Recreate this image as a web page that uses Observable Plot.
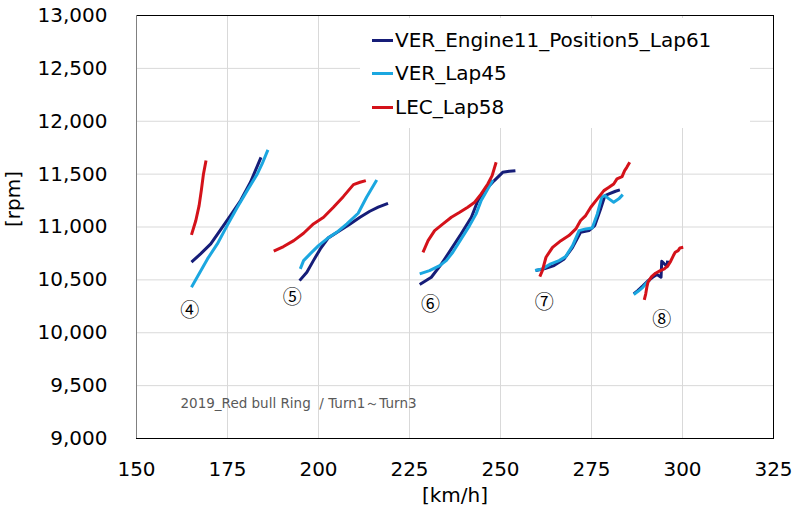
<!DOCTYPE html>
<html>
<head>
<meta charset="utf-8">
<script src="https://cdn.jsdelivr.net/npm/d3@7"></script>
<script src="https://cdn.jsdelivr.net/npm/@observablehq/plot@0.6"></script>
<style>
  body { margin: 0; background: white; }
  #wrap { position: relative; width: 800px; height: 518px; font-family: "DejaVu Sans", sans-serif; }
  #legend { position: absolute; left: 360px; top: 18px; width: 390px; height: 110px; background: white; }
  .item { position: absolute; left: 12px; height: 24px; display: flex; align-items: center; font-size: 20px; color: #000; }
  .sw { width: 21px; height: 3px; margin-right: 2px; }
</style>
</head>
<body>
<div id="wrap"><div id="legend"></div></div>
<script>
const seriesNames = ["VER_Engine11_Position5_Lap61", "VER_Lap45", "LEC_Lap58"];
const seriesColors = ["#161d78", "#1ba7e0", "#d4121a"];
const xTicks = [150, 175, 200, 225, 250, 275, 300, 325];
const yTicks = [9000, 9500, 10000, 10500, 11000, 11500, 12000, 12500, 13000];
const gears = [4, 5, 6, 7, 8];
const gearLabels = ["④", "⑤", "⑥", "⑦", "⑧"];
const gearLabelSpeed = [164.6, 192.8, 230.8, 262.0, 294.3];
const gearLabelRpm = [10210, 10333, 10266, 10285, 10125];
const caption = "2019_Red bull Ring \u00a0/ Turn1～Turn3";

// VER_Engine11_Position5_Lap61 : [km/h, rpm]
const ver61G4 = [[165.1,10667],[167.6,10746],[170.4,10840],[172.6,10950],[175.8,11108],[178.6,11250],[181.3,11423],[184.2,11659]];
const ver61G5 = [[194.8,10493],[196.8,10572],[198.6,10682],[200.5,10793],[202.7,10897],[205.9,10966],[208.7,11029],[211.4,11092],[214.1,11149],[216.4,11187],[219.1,11224]];
const ver61G6 = [[227.8,10456],[231.0,10525],[233.8,10651],[236.5,10793],[239.2,10935],[242.0,11092],[243.8,11250],[246.1,11360],[248.3,11439],[250.6,11517],[252.4,11527],[254.1,11533]];
const ver61G7 = [[259.7,10588],[262.0,10604],[264.7,10635],[267.5,10698],[269.8,10808],[272.0,10950],[274.3,10966],[275.9,11013],[277.5,11171],[278.7,11297],[279.8,11313],[281.6,11338],[282.8,11351]];
const ver61G8 = [[286.6,10368],[287.7,10399],[289.1,10443],[290.4,10487],[291.8,10525],[293.0,10550],[294.1,10525],[294.3,10676],[295.8,10626],[295.9,10682]];

// VER_Lap45
const ver45G4 = [[165.1,10430],[167.2,10557],[169.5,10698],[172.2,10840],[174.9,11013],[177.7,11187],[180.4,11344],[183.2,11502],[184.5,11596],[186.1,11729]];
const ver45G5 = [[195.0,10604],[195.9,10682],[197.7,10746],[200.0,10824],[202.3,10888],[205.0,10950],[207.8,11029],[210.9,11130],[213.2,11281],[216.0,11445]];
const ver45G6 = [[227.8,10557],[230.5,10588],[233.3,10635],[235.1,10682],[236.9,10761],[239.2,10888],[241.5,11013],[243.3,11124],[244.7,11250],[246.5,11360],[247.9,11445]];
const ver45G7 = [[259.5,10588],[261.5,10604],[263.8,10651],[266.1,10682],[267.9,10720],[269.8,10824],[271.6,10966],[273.4,10982],[275.2,10991],[276.6,11124],[277.8,11281],[278.7,11297],[279.8,11266],[281.1,11234],[282.5,11266],[283.6,11306]];
const ver45G8 = [[286.6,10361],[287.8,10392],[289.1,10430],[290.3,10477],[291.0,10500]];

// LEC_Lap58
const lec58G4 = [[165.1,10925],[166.3,11061],[167.2,11202],[167.8,11344],[168.4,11502],[169.1,11628]];
const lec58G5 = [[187.7,10771],[190.4,10815],[193.2,10871],[195.9,10941],[198.6,11029],[201.4,11092],[204.1,11187],[206.8,11287],[209.6,11401],[211.4,11423],[213.0,11439]];
const lec58G6 = [[228.7,10761],[230.1,10871],[231.9,10966],[234.2,11029],[236.5,11092],[238.8,11139],[241.0,11187],[242.9,11234],[244.7,11313],[246.5,11407],[247.7,11486],[248.8,11612]];
const lec58G7 = [[260.8,10531],[261.5,10588],[262.5,10714],[264.3,10808],[266.6,10871],[268.8,10919],[270.7,10982],[272.0,11061],[273.4,11108],[274.8,11187],[276.6,11266],[278.4,11344],[279.8,11375],[281.1,11407],[282.0,11455],[283.4,11476],[284.1,11533],[284.7,11564],[285.5,11612]];
const lec58G8 = [[289.5,10311],[289.9,10368],[290.2,10430],[290.5,10477],[291.5,10531],[292.6,10563],[293.9,10588],[295.0,10604],[296.0,10635],[296.6,10667],[297.5,10730],[298.0,10761],[298.8,10777],[299.3,10802],[300.2,10808]];

const seriesGears = [
  [ver61G4, ver61G5, ver61G6, ver61G7, ver61G8],
  [ver45G4, ver45G5, ver45G6, ver45G7, ver45G8],
  [lec58G4, lec58G5, lec58G6, lec58G7, lec58G8]
];

const rows = [];
seriesGears.forEach((gs, si) => gs.forEach((pts, gi) => pts.forEach(([speed, rpm]) =>
  rows.push({series: seriesNames[si], key: seriesNames[si] + "_" + gears[gi], speed, rpm}))));
const gearRows = gearLabels.map((t, i) => ({t, speed: gearLabelSpeed[i], rpm: gearLabelRpm[i]}));

const chart = Plot.plot({
  width: 800, height: 518,
  marginLeft: 136, marginRight: 27, marginTop: 15, marginBottom: 80,
  style: {fontFamily: "DejaVu Sans", fontSize: "20px", color: "#000", background: "white"},
  x: {domain: [150, 325]},
  y: {domain: [9000, 13000]},
  color: {domain: seriesNames, range: seriesColors},
  marks: [
    Plot.gridY(yTicks, {stroke: "#d9d9d9", strokeOpacity: 1}),
    Plot.gridX(xTicks, {stroke: "#d9d9d9", strokeOpacity: 1}),
    Plot.axisY(yTicks, {tickSize: 0, tickPadding: 29, tickFormat: d3.format(","), fontSize: 20, label: null}),
    Plot.axisX(xTicks, {tickSize: 0, tickPadding: 23, tickFormat: d => String(d), fontSize: 20, label: null}),
    Plot.line(rows, {x: "speed", y: "rpm", z: "key", stroke: "series", strokeWidth: 3, strokeLinejoin: "round", strokeLinecap: "butt"}),
    Plot.text(gearRows, {x: "speed", y: "rpm", text: "t", fontSize: 19, fontFamily: "Noto Sans CJK JP", fill: "#000"}),
    Plot.text([caption], {text: d => d, frameAnchor: "bottom-left", dx: 44, dy: -31, textAnchor: "start", fontSize: 13.5, fill: "#595959"}),
    Plot.text(["[km/h]"], {text: d => d, frameAnchor: "bottom", dy: 63, fontSize: 20, fill: "#000"}),
    Plot.text(["[rpm]"], {text: d => d, frameAnchor: "left", dx: -123, rotate: -90, fontSize: 20, fill: "#000"}),
    Plot.frame({stroke: "#000"}),
    Plot.ruleX([150], {stroke: "#808080"})
  ]
});
const wrap = document.getElementById("wrap");
wrap.insertBefore(chart, wrap.firstChild);

const legend = document.getElementById("legend");
const rowTops = [10, 43, 77];
seriesNames.forEach((name, i) => {
  const it = document.createElement("div");
  it.className = "item";
  it.style.top = rowTops[i] + "px";
  const sw = document.createElement("div");
  sw.className = "sw";
  sw.style.background = seriesColors[i];
  const tx = document.createElement("span");
  tx.textContent = name;
  it.appendChild(sw); it.appendChild(tx);
  legend.appendChild(it);
});
</script>
</body>
</html>
